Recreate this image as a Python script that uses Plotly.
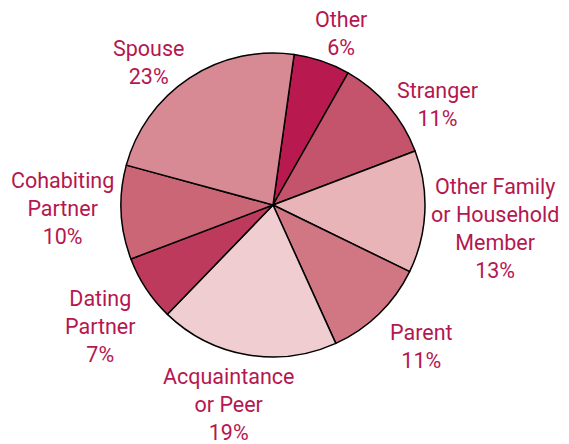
import plotly.graph_objects as go

categories = ["Other", "Stranger", "Other Family<br>or Household<br>Member", "Parent",
              "Acquaintance<br>or Peer", "Dating<br>Partner", "Cohabiting<br>Partner", "Spouse"]
values = [6, 11, 13, 11, 19, 7, 10, 23]
colors = ["#B81A50", "#C4546B", "#E8B4B8", "#D07783", "#EFCDD0", "#BD3A5D", "#CA6676", "#D88A94"]

# label block centres on screen (pixels from top-left), a layout style, not data
label_px = [(341, 34), (437, 104), (495, 228), (421, 346),
            (229, 404), (101, 326), (62, 209), (148, 63)]

W, H = 569, 444
OFF = 8  # page body margin in the browser
cx, cy, r = 273 - OFF, 205 - OFF, 152

fig = go.Figure(go.Pie(
    labels=categories,
    values=values,
    sort=False,
    direction="clockwise",
    rotation=8,
    marker=dict(colors=colors, line=dict(color="black", width=1.5)),
    textinfo="none",
    showlegend=False,
    hoverinfo="label+value",
    domain=dict(x=[(cx - r) / W, (cx + r) / W], y=[(H - cy - r) / H, (H - cy + r) / H]),
))

for lab, val, (px, py) in zip(categories, values, label_px):
    fig.add_annotation(
        x=(px - OFF) / W, y=1 - (py - OFF) / H, xref="paper", yref="paper",
        xanchor="center", yanchor="middle", align="center",
        text=f"{lab}<br>{val}%", showarrow=False,
        font=dict(family="Roboto, sans-serif", size=21.5, color="#B5174F"),
    )

fig.update_layout(width=W, height=H, margin=dict(l=0, r=0, t=0, b=0),
                  paper_bgcolor="white", plot_bgcolor="white")
fig.write_html("out.html")
